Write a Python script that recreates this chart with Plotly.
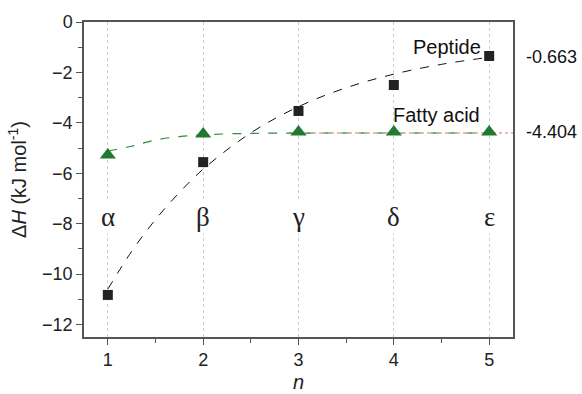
import plotly.graph_objects as go

n_vals = [1, 2, 3, 4, 5]
peptide = [-10.83, -5.56, -3.53, -2.50, -1.35]
fatty = [-5.28, -4.44, -4.37, -4.37, -4.37]

# fitted curves
fit_x = [1, 1.25, 1.5, 1.75, 2, 2.5, 3, 3.5, 4, 4.5, 5]
peptide_fit = [-10.6, -9.1, -7.84, -6.77, -5.84, -4.40, -3.36, -2.61, -2.07, -1.68, -1.40]
fatty_fit = [-5.12, -4.93, -4.68, -4.55, -4.475, -4.42, -4.407, -4.404, -4.404, -4.404, -4.404]

asym_x = [2.9, 5.25]
asym_y = [-4.404, -4.404]

greek = ["α", "β", "γ", "δ", "ε"]
greek_y = -7.72
right_labels = ["-0.663", "-4.404"]
right_label_y = [-1.38, -4.37]

FONT = "Liberation Sans, Arial, sans-serif"

fig = go.Figure()
fig.add_trace(go.Scatter(x=asym_x, y=asym_y, mode="lines",
                         line=dict(color="#e86a6a", width=1, dash="dot"), showlegend=False))
fig.add_trace(go.Scatter(x=fit_x, y=fatty_fit, mode="lines", line_shape="spline",
                         line=dict(color="#2e8b3e", width=1.2, dash="dash"), showlegend=False))
fig.add_trace(go.Scatter(x=fit_x, y=peptide_fit, mode="lines", line_shape="spline",
                         line=dict(color="#111111", width=1, dash="dash"), showlegend=False))
fig.add_trace(go.Scatter(x=n_vals, y=peptide, mode="markers",
                         marker=dict(symbol="square", size=10, color="#222222"), showlegend=False))
fig.add_trace(go.Scatter(x=n_vals, y=fatty, mode="markers",
                         marker=dict(symbol="triangle-up", size=14, color="#1f7a2e"), showlegend=False))

for xv, g in zip(n_vals, greek):
    fig.add_annotation(x=xv, y=greek_y, text=g, showarrow=False, bgcolor="white",
                       font=dict(family="Liberation Serif, Times New Roman, serif", size=27, color="#222"),
                       borderpad=1)

fig.add_annotation(x=4.56, y=-1.0, text="Peptide", showarrow=False,
                   font=dict(family=FONT, size=20, color="#111"))
fig.add_annotation(x=4.45, y=-3.7, text="Fatty acid", showarrow=False,
                   font=dict(family=FONT, size=20, color="#111"))
for t, yv in zip(right_labels, right_label_y):
    fig.add_annotation(xref="paper", x=1.026, y=yv, text=t, showarrow=False, xanchor="left",
                       font=dict(family=FONT, size=18, color="#111"))

axis_common = dict(showline=True, linecolor="#555", linewidth=1.5, mirror=True,
                   ticks="outside", ticklen=6, tickwidth=1.2, tickcolor="#555",
                   tickfont=dict(family=FONT, size=18, color="#222"),
                   zeroline=False, automargin=False)
fig.update_xaxes(range=[0.75, 5.25], tickvals=n_vals, showgrid=True, gridcolor="#cccccc",
                 griddash="dot", gridwidth=1,
                 minor=dict(dtick=0.5, tick0=0.5, ticks="outside", ticklen=4, tickcolor="#555", showgrid=False),
                 title=dict(text="<i>n</i>", font=dict(family=FONT, size=20, color="#222"), standoff=6),
                 **axis_common)
fig.update_yaxes(range=[-12.5, 0], tickvals=[0, -2, -4, -6, -8, -10, -12], showgrid=False,
                 minor=dict(dtick=1, tick0=0, ticks="outside", ticklen=4, tickcolor="#555", showgrid=False),
                 title=dict(text="Δ<i>H</i> (kJ mol<sup>-1</sup>)", font=dict(family=FONT, size=20, color="#222"), standoff=10),
                 **axis_common)

fig.update_layout(width=582, height=394, margin=dict(l=84, r=69, t=22, b=57),
                  plot_bgcolor="white", paper_bgcolor="white")
fig.write_html("out.html")
